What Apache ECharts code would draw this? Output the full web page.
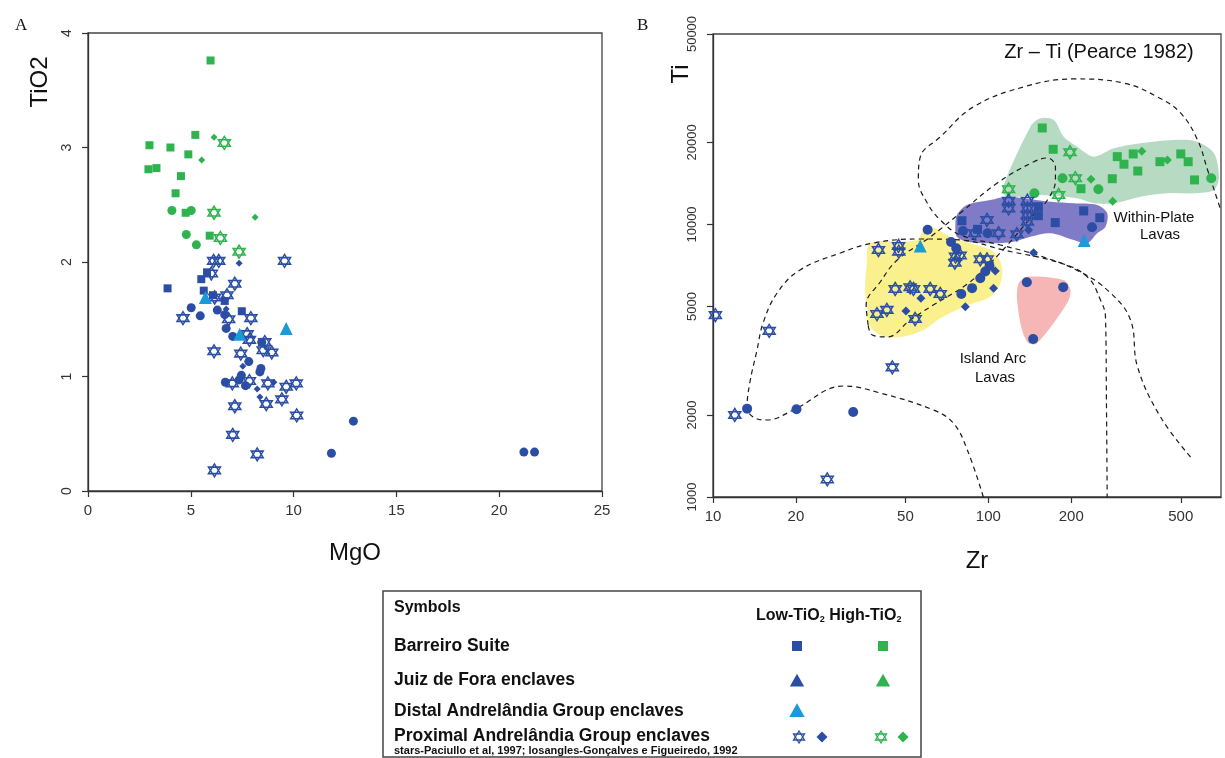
<!DOCTYPE html>
<html>
<head>
<meta charset="utf-8">
<script src="https://cdn.jsdelivr.net/npm/echarts@6/dist/echarts.min.js"></script>
<style>
html, body { margin: 0; padding: 0; background: #fff; }
#chart { width: 1225px; height: 758px; }
</style>
</head>
<body>
<div id="chart"></div>
<script>
// ---- panel A : MgO vs TiO2 ----
const aLowSquare = [[5.79,1.91],[5.51,1.85],[3.87,1.77],[5.63,1.75],[6.08,1.71],[6.65,1.66],[7.48,1.57]];
const aLowCircle = [[5.02,1.60],[6.29,1.58],[5.46,1.53],[6.65,1.54],[6.72,1.42],[7.04,1.35],[8.45,1.30],[7.82,1.13],
  [8.41,1.07],[8.36,1.04],[7.46,1.01],[6.68,0.95],[7.35,0.97],[7.66,0.92],[12.91,0.61],[11.84,0.33],[21.2,0.34],[21.72,0.34]];
const aLowDiamond = [[7.35,1.99],[6.72,1.59],[7.53,1.09],[9.04,0.95],[8.23,0.89],[8.36,0.82]];
const aDistalTri = [[5.71,1.69],[9.64,1.42],[7.38,1.37]];
const aLowStar = [[6.11,2.01],[6.36,2.01],[9.56,2.01],[6.0,1.90],[7.14,1.81],[6.16,1.69],[6.76,1.71],[4.62,1.51],
  [6.84,1.50],[7.92,1.51],[7.74,1.37],[7.85,1.32],[8.6,1.30],[8.52,1.23],[8.94,1.21],[6.13,1.22],[7.43,1.20],
  [7.02,0.94],[7.85,0.96],[8.75,0.94],[9.64,0.91],[10.13,0.94],[8.67,0.76],[9.43,0.80],[7.14,0.74],[10.15,0.66],
  [7.04,0.49],[8.23,0.32],[6.15,0.18]];
const aHighSquare = [[5.96,3.76],[5.22,3.11],[2.99,3.02],[4.01,3.0],[4.88,2.94],[2.94,2.81],[3.33,2.82],[4.52,2.75],
  [4.26,2.60],[4.75,2.43],[5.92,2.23]];
const aHighCircle = [[4.08,2.45],[5.02,2.45],[4.78,2.24],[5.27,2.15]];
const aHighDiamond = [[6.13,3.09],[5.53,2.89],[8.13,2.39]];
const aHighStar = [[6.63,3.04],[6.13,2.43],[6.44,2.21],[7.35,2.09]];
const mgoTicks = [0, 25, 5];
const tio2Ticks = [0, 4, 1];

// ---- panel B : Zr vs Ti (log-log) ----
const bLowSquare = [[80.2,10320],[91.4,9600],[152,11620],[152,10770],[222,11210],[254,10590],[175,10160]];
const bLowCircle = [[60.2,9570],[73.2,8630],[76.5,8180],[101,7040],[97.5,6720],[93.5,6350],[87.3,5840],[79.8,5560],
  [80.9,9460],[99.4,9290],[238,9770],[138,6140],[187,5890],[145.5,3800],[13.3,2110],[20.1,2100],[32.3,2050]];
const bLowDiamond = [[106,6750],[104.5,5840],[82.5,4990],[56.9,5360],[50.2,4810],[140,9550],[146,7880]];
const bDistalTri = [[56.6,8340],[223,8730]];
const bLowStar = [[39.9,8060],[47.2,8340],[47.3,7950],[76,7620],[75.6,7240],[79,7700],[93.5,7450],[98.9,7450],
  [45.9,5800],[52,5880],[53.5,5800],[61.5,5800],[66.9,5560],[39.4,4690],[42.8,4860],[54.2,4500],
  [118.5,12220],[118.5,11460],[138.7,12220],[138.7,11460],[138.7,10830],[138.7,10230],[98.9,10390],
  [89.2,9290],[109,9290],[127,9210],[10.2,4650],[16.0,4070],[44.8,2990],[12.0,2000],[26.0,1160]];
const bHighSquare = [[157,22600],[172,18880],[294,17740],[311,16640],[336,18150],[349,15710],[420,17000],
  [500,18150],[532,17000],[561,14570],[217,13530],[282,14720]];
const bHighDiamond = [[361,18560],[447,17250],[236,14650],[283,12170]];
const bHighCircle = [[645,14790],[186,14790],[251,13460],[147,13020]];
const bHighStar = [[198,18410],[207,14790],[180,12830],[118.5,13460]];
const zrTicks = [10, 20, 50, 100, 200, 500];
const tiTicks = [1000, 2000, 5000, 10000, 20000, 50000];

// shaded fields (Zr, Ti)
const morbField = [[37.2,8530],[55.1,8770],[59.0,9815],[64.2,9685],[72.7,9020],[86.0,8530],[104.5,7950],[112,7000],
  [110.6,6080],[101.7,5430],[88.4,5140],[76.9,4860],[66.9,4530],[58.2,4100],[49.2,3880],[41.6,3880],[37.2,4220],
  [36.2,4860],[35.7,5910],[36.2,7200]];
const withinField = [[76.9,10840],[83.6,11790],[101.7,12300],[117,12650],[168.1,12120],[204.3,11960],[248.5,11790],
  [270.3,10990],[266.5,9815],[248.5,9285],[228.5,8530],[204.3,8770],[168.1,9285],[142.1,9020],[123.6,8650],
  [101.7,8530],[83.6,8650],[76.9,9020],[75.9,9815]];
const highField = [[112.1,13390],[142.1,22850],[154.5,24530],[172.9,24180],[187.8,21000],[210.1,19300],[241.5,17740],
  [285.5,19040],[357,19860],[471.8,20420],[574.1,20130],[659.7,18250],[688,14980],[659.7,13390],[558,13020],
  [446.5,13020],[357,12650],[285.5,11960],[241.5,11960],[210.1,12480],[154.5,12830],[117,12650]];
const arcField = [[128.9,6080],[138.2,6434],[187.8,6257],[198.7,5750],[193.2,5140],[150.4,3664],[140.1,3664],
  [132.6,4101],[127.2,5285]];

// Pearce (1982) boundaries
const withinLine = [[542.6,1402],[422.2,1966],[348.3,3000],[328.5,4462],[277.8,5606],[216,6694],[154.5,7664],
  [110.6,8410],[79.1,9150],[66.9,10390],[60.0,11990],[55.7,14570],[56.6,17690],[66.9,20950],[88.2,26990],
  [134.1,31960],[203.8,34200],[309.7,33050],[411.7,29380],[499,25660],[575.4,20420],[625.7,15850],[674,12620],[700,11200]];
const morbArcLine = [[95.9,1000],[83.9,1488],[74.6,1868],[63.1,2086],[40.5,2408],[29.8,2555],[19.6,2086],[15.7,1917],
  [14.0,1966],[13.3,2140],[13.6,2620],[14.45,3462],[15.2,4350],[17.1,5606],[20.7,6808],[29.0,7860],[38.2,8553],
  [56.6,8847],[79.1,8773],[113.4,8062],[182.8,7223],[229.1,6418],[255.5,5284],[266.4,4577],[268.5,2270],[270.2,1000]];
const morbLoop = [[36.6,4278],[36.0,5065],[40.5,6152],[46.7,7409],[61.5,8995],[79.1,11020],[107.8,14200],[145.8,16960],
  [163.9,17540],[175.3,16260],[175.3,14570],[163.9,12300],[145.8,10840],[117.3,8410],[101.7,7223],[83.9,6049],
  [63.1,5065],[52.05,4462],[42.9,3866],[37.9,3931],[36.6,4278]];

const lowBlue = '#2b4ea4';
const highGreen = '#2fb34f';
const distalBlue = '#1a9ad8';
const starPath = 'path://M50,0L93.3,75L6.7,75Z M50,100L6.7,25L93.3,25Z';
const sans = 'Liberation Sans, Arial, sans-serif';

function pts(data, idx, symbol, size, color, hollow) {
  return {
    type: 'scatter', xAxisIndex: idx, yAxisIndex: idx, data: data,
    symbol: symbol, symbolSize: size, z: 5, silent: true,
    itemStyle: hollow
      ? { color: 'rgba(255,255,255,0)', borderColor: color, borderWidth: 1.5, opacity: 1 }
      : { color: color, opacity: 1 }
  };
}

function field(data, fill) {
  return {
    type: 'custom', xAxisIndex: 1, yAxisIndex: 1, data: data, z: 1, silent: true,
    renderItem: function (params, api) {
      if (params.dataIndex !== 0) return null;
      return {
        type: 'polygon',
        shape: { points: data.map(p => api.coord(p)), smooth: 0.3 },
        style: { fill: fill }
      };
    }
  };
}

function dash(data) {
  return {
    type: 'line', xAxisIndex: 1, yAxisIndex: 1, data: data, smooth: 0.4,
    symbol: 'none', z: 3, silent: true,
    lineStyle: { color: '#1a1a1a', width: 1.2, type: [5, 4] }
  };
}

const axisBase = {
  axisLine: { show: true, lineStyle: { color: '#333', width: 1.3 } },
  axisTick: { show: true, length: 6, lineStyle: { color: '#333', width: 1.2 } },
  splitLine: { show: false }
};

function tri(cx, cy, s, color) {
  return { type: 'polygon', shape: { points: [[cx, cy - s * 0.55], [cx + s * 0.55, cy + s * 0.42], [cx - s * 0.55, cy + s * 0.42]] }, style: { fill: color } };
}
function diamond(cx, cy, s, color) {
  return { type: 'polygon', shape: { points: [[cx, cy - s], [cx + s, cy], [cx, cy + s], [cx - s, cy]] }, style: { fill: color } };
}
function star(cx, cy, color) {
  const w = 5.5, h = 6;
  return [
    { type: 'polygon', shape: { points: [[cx, cy - h], [cx + w, cy + h * 0.5], [cx - w, cy + h * 0.5]] }, style: { fill: 'none', stroke: color, lineWidth: 1.3 } },
    { type: 'polygon', shape: { points: [[cx, cy + h], [cx - w, cy - h * 0.5], [cx + w, cy - h * 0.5]] }, style: { fill: 'none', stroke: color, lineWidth: 1.3 } }
  ];
}
function txt(x, y, s, size, opts) {
  return { type: 'text', x: x, y: y, style: Object.assign({ text: s, font: size + 'px ' + sans, fill: '#111', verticalAlign: 'middle' }, opts || {}) };
}

const legendRows = ['Barreiro Suite', 'Juiz de Fora enclaves', 'Distal Andrelândia Group enclaves', 'Proximal Andrelândia Group enclaves'];
const legendRowY = [646, 680, 711, 736];

const graphics = [
  txt(15, 26, 'A', 17, { font: '17px Liberation Serif, serif' }),
  txt(637, 26, 'B', 17, { font: '17px Liberation Serif, serif' }),
  { type: 'text', x: 40, y: 82, rotation: Math.PI / 2, style: { text: 'TiO2', font: '24px ' + sans, fill: '#111', align: 'center', verticalAlign: 'middle' } },
  { type: 'text', x: 681, y: 74, rotation: Math.PI / 2, style: { text: 'Ti', font: '24px ' + sans, fill: '#111', align: 'center', verticalAlign: 'middle' } },
  txt(1099, 52, 'Zr – Ti (Pearce 1982)', 20, { align: 'center' }),
  txt(922, 272, 'MORB', 15, { align: 'center' }),
  txt(1154, 218, 'Within-Plate', 15, { align: 'center' }),
  txt(1160, 235, 'Lavas', 15, { align: 'center' }),
  txt(993, 359, 'Island Arc', 15, { align: 'center' }),
  txt(995, 378, 'Lavas', 15, { align: 'center' }),
  { type: 'rect', shape: { x: 383, y: 591, width: 538, height: 166 }, style: { fill: 'none', stroke: '#444', lineWidth: 1.5 } },
  txt(394, 608, 'Symbols', 16, { font: 'bold 16px ' + sans }),
  txt(756, 616, '{a|Low-TiO}{s|2} {a|High-TiO}{s|2}', 16, { rich: { a: { font: 'bold 16px ' + sans, fill: '#111' }, s: { font: 'bold 9px ' + sans, fill: '#111', verticalAlign: 'bottom' } } }),
  txt(394, 751, 'stars-Paciullo et al, 1997; losangles-Gonçalves e Figueiredo, 1992', 11, { font: 'bold 11px ' + sans }),
  { type: 'rect', shape: { x: 792, y: 641, width: 10, height: 10 }, style: { fill: lowBlue } },
  { type: 'rect', shape: { x: 878, y: 641, width: 10, height: 10 }, style: { fill: highGreen } },
  tri(797, 681, 13, lowBlue),
  tri(883, 681, 13, highGreen),
  tri(797, 711, 14, distalBlue),
  diamond(822, 737, 5.5, lowBlue),
  diamond(903, 737, 5.5, highGreen)
].concat(star(799, 737, lowBlue), star(881, 737, highGreen));
legendRows.forEach((r, i) => graphics.push(txt(394, legendRowY[i], r, 17.5, { font: 'bold 17.5px ' + sans })));

const plain = v => String(v);

const option = {
  animation: false,
  backgroundColor: '#fff',
  grid: [
    { left: 88, top: 33, width: 514, height: 458, show: true, borderColor: '#444', borderWidth: 1.3 },
    { left: 713, top: 34, width: 508, height: 463, show: true, borderColor: '#444', borderWidth: 1.3 }
  ],
  xAxis: [
    Object.assign({}, axisBase, {
      type: 'value', gridIndex: 0, min: mgoTicks[0], max: mgoTicks[1], interval: mgoTicks[2],
      axisLabel: { fontSize: 15, color: '#333', margin: 12, fontFamily: sans },
      name: 'MgO', nameLocation: 'middle', nameGap: 50,
      nameTextStyle: { fontSize: 24, color: '#111', fontFamily: sans, padding: [0, 0, 0, 20] }
    }),
    Object.assign({}, axisBase, {
      type: 'log', logBase: 10, gridIndex: 1, min: 10, max: 700,
      axisTick: Object.assign({}, axisBase.axisTick, { customValues: zrTicks }),
      axisLabel: { fontSize: 15, color: '#333', margin: 12, fontFamily: sans, customValues: zrTicks, formatter: plain },
      minorTick: { show: false },
      name: 'Zr', nameLocation: 'middle', nameGap: 52,
      nameTextStyle: { fontSize: 24, color: '#111', fontFamily: sans, padding: [0, 0, 0, 20] }
    })
  ],
  yAxis: [
    Object.assign({}, axisBase, {
      type: 'value', gridIndex: 0, min: tio2Ticks[0], max: tio2Ticks[1], interval: tio2Ticks[2],
      axisLabel: { fontSize: 14, color: '#333', margin: 14, rotate: 90, fontFamily: sans }
    }),
    Object.assign({}, axisBase, {
      type: 'log', logBase: 10, gridIndex: 1, min: 1000, max: 50000,
      axisTick: Object.assign({}, axisBase.axisTick, { customValues: tiTicks }),
      axisLabel: { fontSize: 13, color: '#333', margin: 14, rotate: 90, fontFamily: sans, customValues: tiTicks, formatter: plain }
    })
  ],
  graphic: graphics,
  series: [
    pts(aHighSquare, 0, 'rect', 8, highGreen),
    pts(aHighCircle, 0, 'circle', 9, highGreen),
    pts(aHighDiamond, 0, 'diamond', 7, highGreen),
    pts(aHighStar, 0, starPath, [12, 13], highGreen, true),
    pts(aLowStar, 0, starPath, [12, 13], lowBlue, true),
    pts(aLowSquare, 0, 'rect', 8, lowBlue),
    pts(aLowCircle, 0, 'circle', 9, lowBlue),
    pts(aLowDiamond, 0, 'diamond', 7, lowBlue),
    pts(aDistalTri, 0, 'triangle', 13, distalBlue),

    field(highField, '#b7dbc2'),
    field(withinField, '#7f7bc6'),
    field(morbField, '#faf18e'),
    field(arcField, '#f5b6b5'),
    dash(withinLine),
    dash(morbArcLine),
    dash(morbLoop),

    pts(bHighSquare, 1, 'rect', 9, highGreen),
    pts(bHighCircle, 1, 'circle', 10, highGreen),
    pts(bHighDiamond, 1, 'diamond', 9, highGreen),
    pts(bHighStar, 1, starPath, [12, 13], highGreen, true),
    pts(bLowStar, 1, starPath, [12, 13], lowBlue, true),
    pts(bLowSquare, 1, 'rect', 9, lowBlue),
    pts(bLowCircle, 1, 'circle', 10, lowBlue),
    pts(bLowDiamond, 1, 'diamond', 9, lowBlue),
    pts(bDistalTri, 1, 'triangle', 13, distalBlue)
  ]
};

const chart = echarts.init(document.getElementById('chart'), null, { renderer: 'canvas' });
chart.setOption(option);
</script>
</body>
</html>
